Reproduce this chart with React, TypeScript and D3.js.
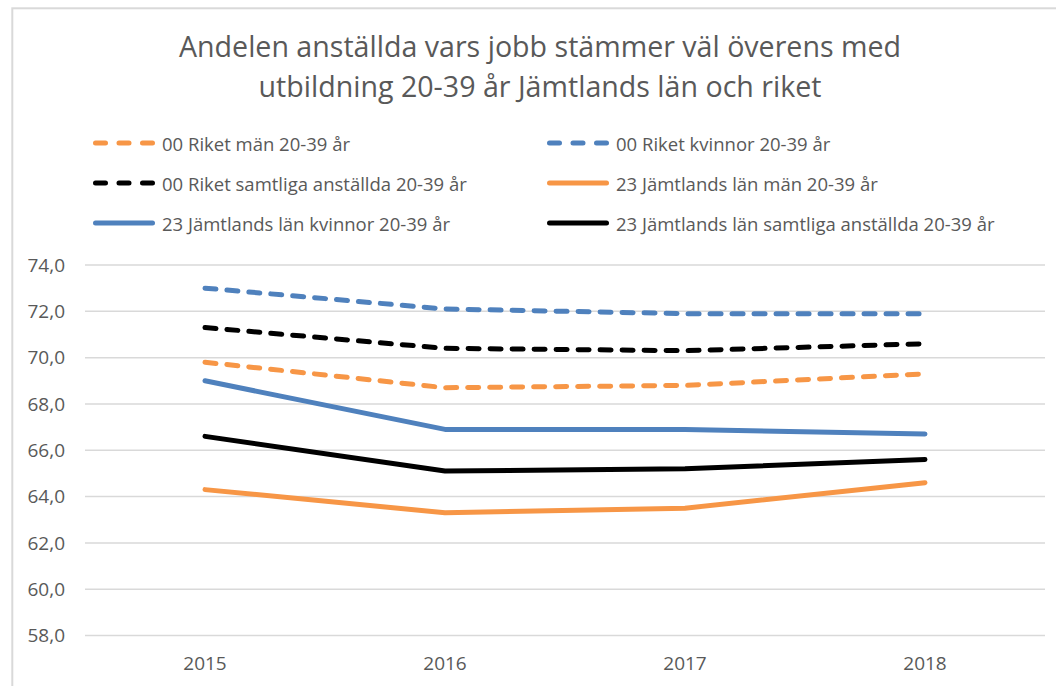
import React from "react";
import * as d3 from "d3";

const years = ["2015", "2016", "2017", "2018"];
const riketMan = [69.8, 68.7, 68.8, 69.3];
const riketKvinnor = [73.0, 72.1, 71.9, 71.9];
const riketSamtliga = [71.3, 70.4, 70.3, 70.6];
const jamtMan = [64.3, 63.3, 63.5, 64.6];
const jamtKvinnor = [69.0, 66.9, 66.9, 66.7];
const jamtSamtliga = [66.6, 65.1, 65.2, 65.6];
const yTicks = [58, 60, 62, 64, 66, 68, 70, 72, 74];
const titleLines = [
  "Andelen anställda vars jobb stämmer väl överens med",
  "utbildning 20-39 år Jämtlands län och riket",
];

const BLUE = "#4F81BD";
const ORANGE = "#F79646";
const BLACK = "#000000";
const TEXT = "#595959";
const GRID = "#D9D9D9";
const FONT = "'Open Sans', sans-serif";

const series = [
  { name: "00 Riket män 20-39 år", values: riketMan, color: ORANGE, dashed: true },
  { name: "00 Riket kvinnor 20-39 år", values: riketKvinnor, color: BLUE, dashed: true },
  { name: "00 Riket samtliga anställda 20-39 år", values: riketSamtliga, color: BLACK, dashed: true },
  { name: "23 Jämtlands län män 20-39 år", values: jamtMan, color: ORANGE, dashed: false },
  { name: "23 Jämtlands län kvinnor 20-39 år", values: jamtKvinnor, color: BLUE, dashed: false },
  { name: "23 Jämtlands län samtliga anställda 20-39 år", values: jamtSamtliga, color: BLACK, dashed: false },
];

export default function App() {
  const W = 1056;
  const H = 686;
  const plotLeft = 85;
  const plotRight = 1045;
  const x = d3.scalePoint<string>().domain(years).range([plotLeft, plotRight]).padding(0.5);
  const y = d3.scaleLinear().domain([58, 74]).range([635.5, 265]);
  const line = d3
    .line<number>()
    .x((_, i) => x(years[i]) as number)
    .y((d) => y(d));
  const fmt = (v: number) => d3.format(".1f")(v).replace(".", ",");

  const legendCols = [93, 547];
  const legendRows = [143, 183, 223];

  return (
    <svg
      width={W}
      height={H}
      style={{ position: "absolute", left: 0, top: 0, background: "#fff" }}
      fontFamily={FONT}
    >
      <rect x={0} y={0} width={W} height={H} fill="#fff" />
      <rect x={12.3} y={8.3} width={W + 20} height={H + 20} fill="none" stroke={GRID} strokeWidth={2} />

      {titleLines.map((t, i) => (
        <text key={i} x={540} y={57 + i * 40} textAnchor="middle" fontSize={28.6} fill={TEXT}>
          {t}
        </text>
      ))}

      {series.map((s, i) => {
        const cx = legendCols[i % 2];
        const cy = legendRows[Math.floor(i / 2)];
        return (
          <g key={s.name}>
            {s.dashed ? (
              <line
                x1={cx + 2.5}
                x2={cx + 59.5}
                y1={cy}
                y2={cy}
                stroke={s.color}
                strokeWidth={5}
                strokeLinecap="round"
                strokeDasharray="10 13.5"
              />
            ) : (
              <line x1={cx + 2.5} x2={cx + 59.5} y1={cy} y2={cy} stroke={s.color} strokeWidth={5} strokeLinecap="round" />
            )}
            <text x={cx + 69} y={cy + 8} fontSize={18.5} fill={TEXT}>
              {s.name}
            </text>
          </g>
        );
      })}

      {yTicks.map((t) => (
        <g key={t}>
          <line x1={plotLeft} x2={plotRight} y1={y(t)} y2={y(t)} stroke={GRID} strokeWidth={1.5} />
          <text x={65} y={y(t)} dy="0.36em" textAnchor="end" fontSize={19} fill={TEXT}>
            {fmt(t)}
          </text>
        </g>
      ))}

      {years.map((yr) => (
        <text key={yr} x={x(yr)} y={670} textAnchor="middle" fontSize={19} fill={TEXT}>
          {yr}
        </text>
      ))}

      {series.map((s) => (
        <path
          key={s.name}
          d={line(s.values) || ""}
          fill="none"
          stroke={s.color}
          strokeWidth={5}
          strokeLinecap="round"
          strokeLinejoin="round"
          strokeDasharray={s.dashed ? "11 11" : undefined}
        />
      ))}
    </svg>
  );
}
